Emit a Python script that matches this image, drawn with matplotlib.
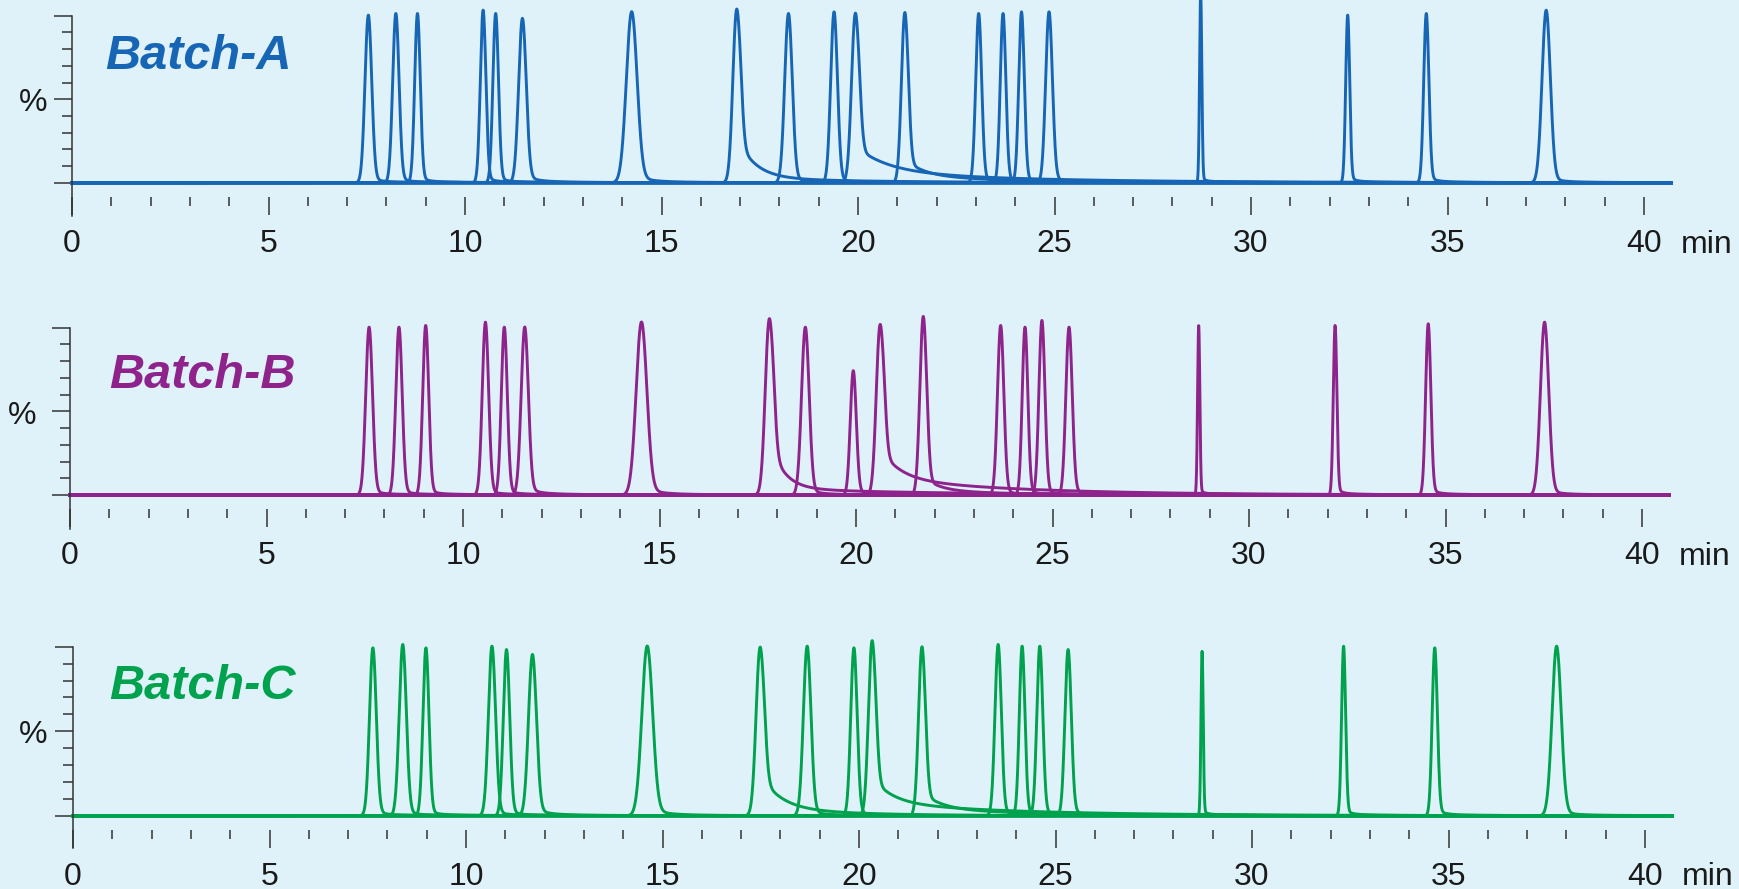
import numpy as np
import matplotlib
matplotlib.use("Agg")
import matplotlib.pyplot as plt
from matplotlib.ticker import FixedLocator, NullFormatter

# ---------------- data ----------------
panel_names = ["Batch-A", "Batch-B", "Batch-C"]
panel_colors = ["#1766B5", "#8E238C", "#00A24E"]

# retention times (min)
A_rt = [7.54, 8.24, 8.79, 10.46, 10.78, 11.46, 14.24, 16.91, 18.23, 19.39,
        19.93, 21.19, 23.07, 23.69, 24.16, 24.86, 28.72, 32.46, 34.46, 37.51]
B_rt = [7.61, 8.37, 9.05, 10.57, 11.05, 11.57, 14.54, 17.79, 18.71, 19.93,
        20.61, 21.71, 23.68, 24.30, 24.73, 25.42, 28.72, 32.19, 34.56, 37.52]
C_rt = [7.63, 8.39, 8.98, 10.66, 11.03, 11.69, 14.61, 17.48, 18.68, 19.87,
        20.33, 21.60, 23.54, 24.15, 24.60, 25.32, 28.73, 32.33, 34.65, 37.75]

# peak heights (% of full scale)
A_height = [100, 101, 101, 103, 101, 98, 102, 102, 101, 102,
            100, 101, 101, 101, 102, 102, 113, 100, 101, 103]
B_height = [100, 100, 101, 103, 100, 100, 103, 103, 100, 74,
            100, 106, 101, 100, 104, 100, 101, 101, 102, 103]
C_height = [99, 101, 99, 100, 98, 95, 100, 98, 100, 99,
            102, 99, 101, 100, 100, 98, 97, 100, 99, 100]

# peak widths (sigma, min)
A_sigma = [0.085, 0.080, 0.070, 0.070, 0.070, 0.095, 0.135, 0.095, 0.095, 0.085,
           0.095, 0.085, 0.075, 0.070, 0.070, 0.085, 0.028, 0.050, 0.065, 0.105]
B_sigma = [0.085, 0.080, 0.075, 0.080, 0.075, 0.090, 0.135, 0.100, 0.095, 0.075,
           0.095, 0.085, 0.080, 0.070, 0.075, 0.080, 0.028, 0.045, 0.065, 0.105]
C_sigma = [0.085, 0.090, 0.075, 0.090, 0.080, 0.100, 0.135, 0.100, 0.095, 0.080,
           0.090, 0.085, 0.080, 0.070, 0.075, 0.080, 0.028, 0.050, 0.065, 0.115]

# fast tail (amplitude %, decay min) and slow tail (amplitude %, decay min)
A_tail = [4, 4, 4, 4, 4, 5, 5, 25, 4, 4, 15, 10, 4, 4, 4, 4, 3, 4, 4, 4]
A_tau = [0.15, 0.15, 0.15, 0.15, 0.15, 0.2, 0.25, 0.45, 0.2, 0.15,
         0.8, 0.5, 0.15, 0.15, 0.15, 0.2, 0.08, 0.12, 0.15, 0.2]
A_slow = [1, 1, 1, 1, 1, 1.5, 1.5, 3, 1, 1, 7, 4, 1, 1, 1, 1, 1, 1, 1, 1]
A_slow_tau = [1, 1, 1, 1, 1, 1, 1, 3, 1, 1, 4, 3, 1, 1, 1, 1, 1, 1, 1, 1]

B_tail = [4, 4, 4, 4, 4, 5, 5, 30, 4, 4, 18, 8, 4, 4, 4, 4, 3, 4, 4, 4]
B_tau = [0.15, 0.15, 0.15, 0.15, 0.15, 0.2, 0.25, 0.35, 0.2, 0.15,
         0.5, 0.4, 0.15, 0.15, 0.15, 0.2, 0.08, 0.12, 0.15, 0.2]
B_slow = [1, 1, 1, 1, 1, 1.5, 1.5, 4, 1, 1, 10, 3, 1, 1, 1, 1, 1, 1, 1, 1]
B_slow_tau = [1, 1, 1, 1, 1, 1, 1, 4, 1, 1, 3.5, 2, 1, 1, 1, 1, 1, 1, 1, 1]

C_tail = [4, 4, 4, 4, 4, 5, 5, 20, 4, 4, 15, 10, 4, 4, 4, 4, 3, 4, 4, 4]
C_tau = [0.15, 0.15, 0.15, 0.15, 0.15, 0.2, 0.25, 0.5, 0.2, 0.15,
         0.5, 0.5, 0.15, 0.15, 0.15, 0.2, 0.08, 0.12, 0.15, 0.2]
C_slow = [1, 1, 1, 1, 1, 1.5, 1.5, 5, 1, 1, 8, 4, 1, 1, 1, 1, 1, 1, 1, 1]
C_slow_tau = [1, 1, 1, 1, 1, 1, 1, 2, 1, 1, 3.5, 3, 1, 1, 1, 1, 1, 1, 1, 1]

run_end = 40.7  # min, end of the recorded traces
major_ticks = [0, 5, 10, 15, 20, 25, 30, 35, 40]
major_labels = ["0", "5", "10", "15", "20", "25", "30", "35", "40"]
minor_ticks = [m for m in range(1, 40) if m % 5 != 0]
x_unit = "min"
y_label = "%"

panels = [
    (A_rt, A_height, A_sigma, A_tail, A_tau, A_slow, A_slow_tau),
    (B_rt, B_height, B_sigma, B_tail, B_tau, B_slow, B_slow_tau),
    (C_rt, C_height, C_sigma, C_tail, C_tau, C_slow, C_slow_tau),
]

# ---------------- layout (pixels in a 1739 x 889 figure) ----------------
W, H = 1739, 889
BG = "#DFF2FA"
AXC = "#333333"
px_per_min = 39.3
# (left x of 0 min, y of 100 %, y of baseline, y of axis bottom)
geom = [(72, 15.7, 182.7, 216), (70, 327.7, 495.0, 528.5), (73, 646.7, 815.7, 848)]
pct_dx = [-39, -48, -40]
title_pos = [(0.84, 68.0), (0.99, 64.0), (0.92, 69.0)]

plt.rcParams["font.family"] = ["Liberation Sans", "DejaVu Sans"]

fig = plt.figure(figsize=(W / 100, H / 100), dpi=100, facecolor=BG)

t = np.linspace(0, run_end, 12000)


def trace(rt, h, s, fa, ftau, sa, stau):
    dt = t - rt
    g = h * np.exp(-0.5 * (dt / s) ** 2)
    onset = 1.0 / (1.0 + np.exp(-(dt - 0.8 * s) / (0.3 * s)))
    pos = np.clip(dt, 0, None)
    tail = (fa * np.exp(-pos / ftau) + sa * np.exp(-pos / stau)) * onset
    return g + tail


xmax = 40.75
for i, (name, col, data, g) in enumerate(zip(panel_names, panel_colors, panels, geom)):
    x0, ytop, ybase, ybot = g
    ppu = (ybase - ytop) / 100.0
    ymin = -(ybot - ybase) / ppu
    left = x0 / W
    width = xmax * px_per_min / W
    bottom = 1 - ybot / H
    height = (ybot - ytop) / H
    ax = fig.add_axes([left, bottom, width, height])
    ax.set_facecolor("none")
    ax.set_xlim(0, xmax)
    ax.set_ylim(ymin, 100)

    rts, hs, ss, fas, ftaus, sas, staus = data
    for k in range(len(rts)):
        y = trace(rts[k], hs[k], ss[k], fas[k], ftaus[k], sas[k], staus[k])
        ax.plot(t, y, color=col, lw=2.1, clip_on=False, solid_joinstyle="round")

    for sp in ["top", "right"]:
        ax.spines[sp].set_visible(False)
    ax.spines["left"].set_color(AXC)
    ax.spines["left"].set_linewidth(1.1)
    ax.spines["bottom"].set_position(("data", -8.5))
    ax.spines["bottom"].set_visible(False)

    ax.yaxis.set_major_locator(FixedLocator([0, 50, 100]))
    ax.yaxis.set_minor_locator(FixedLocator([10, 20, 30, 40, 60, 70, 80, 90]))
    ax.yaxis.set_major_formatter(NullFormatter())
    ax.tick_params(axis="y", which="major", direction="out", length=13, width=1.1, color=AXC)
    ax.tick_params(axis="y", which="minor", direction="out", length=7, width=1.1, color=AXC)

    ax.xaxis.set_major_locator(FixedLocator(major_ticks))
    ax.set_xticklabels(major_labels)
    ax.xaxis.set_minor_locator(FixedLocator(minor_ticks))
    ax.tick_params(axis="x", which="major", direction="out", length=13, width=1.1,
                   color=AXC, labelsize=23, labelcolor="#1a1a1a", pad=10)
    ax.tick_params(axis="x", which="minor", direction="out", length=6.5, width=1.1, color=AXC)

    ax.annotate(x_unit, xy=(41.6, 0), xycoords=("data", "axes fraction"),
                xytext=(0, -10), textcoords="offset points",
                ha="center", va="top", fontsize=23, color="#1a1a1a")
    ax.annotate(y_label, xy=(0, 50), xycoords=("axes fraction", "data"),
                xytext=(pct_dx[i] * 0.72, -3), textcoords="offset points",
                ha="center", va="center", fontsize=23, color="#1a1a1a")
    tx, ty = title_pos[i]
    ax.text(tx, ty, name, color=col, fontsize=35, fontweight="bold",
            fontstyle="italic", ha="left", va="baseline")

fig.savefig("out.png", dpi=100, facecolor=BG)
